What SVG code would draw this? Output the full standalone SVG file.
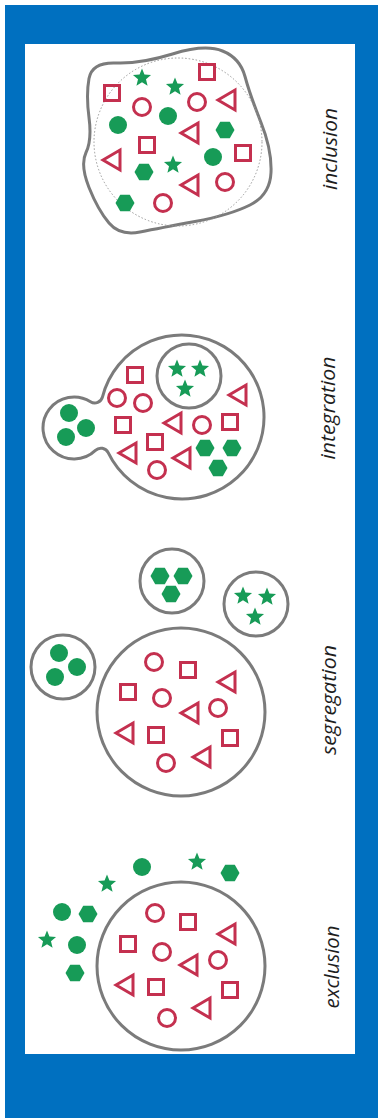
<svg xmlns="http://www.w3.org/2000/svg" xmlns:xlink="http://www.w3.org/1999/xlink" width="378" height="1118" viewBox="0 0 378 1118">
<style>
.ol{fill:#fff;stroke:#7b7b7b;stroke-width:3}
.red{fill:none;stroke:#c4304f;stroke-width:3;stroke-linejoin:miter}
.grn{fill:#179b57;stroke:none}
.lbl{font-family:"Open Sans","Liberation Sans",sans-serif;font-style:italic;font-size:20px;fill:#1e1e1e;text-anchor:middle}
</style>
<defs>
<rect id="sq" class="red" x="-7.5" y="-7.5" width="15" height="15"/>
<circle id="ring" class="red" r="8.5"/>
<polygon id="tri" class="red" points="-9,0 8,-10 8,10"/>
<circle id="dot" class="grn" r="9"/>
<polygon id="hex" class="grn" points="9.5,0 4.75,8.23 -4.75,8.23 -9.5,0 -4.75,-8.23 4.75,-8.23"/>
<polygon id="star" class="grn" points="0,-9.5 2.45,-3.4 9.04,-2.94 3.97,1.29 5.58,7.69 0,4.2 -5.58,7.69 -3.97,1.29 -9.04,-2.94 -2.45,-3.4"/>
</defs>
<rect x="0" y="0" width="378" height="1118" fill="#fff"/>
<rect x="5" y="5" width="373" height="1113" fill="#0070c0"/>
<rect x="25" y="44" width="330" height="1010" fill="#fff"/>

<g id="inclusion">
<path class="ol" d="M89,78.5 Q92,62 116,63 Q140,64 172.5,54 Q205,44 222.5,51 Q240,58 245,76.5 Q250,95 261,122.5 Q272,150 271,172.5 Q270,195 250,205 Q230,215 195,221.5 Q160,228 140,232 Q120,236 109,223 Q98,210 89,187.5 Q80,165 86,152.5 Q92,140 89,117.5 Q86,95 89,78.5 Z"/>
<circle cx="178" cy="142" r="84" fill="none" stroke="#999" stroke-width="1" stroke-dasharray="1.5 2"/>
<use href="#star" x="142" y="78"/><use href="#star" x="175" y="87"/><use href="#star" x="173" y="165"/>
<use href="#sq" x="207" y="72"/><use href="#sq" x="112" y="93"/><use href="#sq" x="147" y="145"/><use href="#sq" x="243" y="153"/>
<use href="#ring" x="142" y="107"/><use href="#ring" x="197" y="102"/><use href="#ring" x="225" y="182"/><use href="#ring" x="163" y="203"/>
<use href="#tri" x="227" y="100"/><use href="#tri" x="190" y="133"/><use href="#tri" x="112" y="160"/><use href="#tri" x="190" y="185"/>
<use href="#dot" x="168" y="116"/><use href="#dot" x="118" y="125"/><use href="#dot" x="213" y="157"/>
<use href="#hex" x="225" y="130"/><use href="#hex" x="144" y="172"/><use href="#hex" x="125" y="203"/>
<text class="lbl" transform="translate(337,149) rotate(-90)" textLength="82" lengthAdjust="spacingAndGlyphs">inclusion</text>
</g>

<g id="integration">
<path class="ol" d="M102.5,396.93 A82,82 0 1 1 108.18,452.69 A8,8 0 0 0 95.45,450.39 A31,31 0 1 1 90.49,401.75 A8,8 0 0 0 102.5,396.93 Z"/>
<circle class="ol" cx="189" cy="376" r="32"/>
<use href="#star" x="177" y="369"/><use href="#star" x="200" y="369"/><use href="#star" x="185" y="389"/>
<use href="#dot" x="69" y="413"/><use href="#dot" x="86" y="428"/><use href="#dot" x="66" y="437"/>
<use href="#sq" x="135" y="375"/><use href="#sq" x="123" y="425"/><use href="#sq" x="155" y="442"/><use href="#sq" x="230" y="422"/>
<use href="#ring" x="117" y="398"/><use href="#ring" x="143" y="403"/><use href="#ring" x="202" y="425"/><use href="#ring" x="157" y="470"/>
<use href="#tri" x="238" y="395"/><use href="#tri" x="173" y="423"/><use href="#tri" x="128" y="453"/><use href="#tri" x="182" y="458"/>
<use href="#hex" x="205" y="448"/><use href="#hex" x="232" y="448"/><use href="#hex" x="218" y="468"/>
<text class="lbl" transform="translate(335,408) rotate(-90)" textLength="103" lengthAdjust="spacingAndGlyphs">integration</text>
</g>

<g id="segregation">
<circle class="ol" cx="181" cy="712" r="84"/>
<circle class="ol" cx="63" cy="667" r="32"/>
<circle class="ol" cx="172" cy="581" r="32"/>
<circle class="ol" cx="256" cy="604" r="32"/>
<use href="#hex" x="160" y="576"/><use href="#hex" x="183" y="576"/><use href="#hex" x="171" y="594"/>
<use href="#star" x="243" y="596"/><use href="#star" x="267" y="597"/><use href="#star" x="255" y="617"/>
<use href="#dot" x="59" y="653"/><use href="#dot" x="77" y="667"/><use href="#dot" x="55" y="677"/>
<use href="#ring" x="154" y="662"/><use href="#sq" x="188" y="670"/><use href="#tri" x="227" y="682"/>
<use href="#sq" x="128" y="692"/><use href="#ring" x="162" y="698"/><use href="#tri" x="190" y="713"/>
<use href="#ring" x="218" y="708"/><use href="#tri" x="125" y="733"/><use href="#sq" x="156" y="735"/>
<use href="#sq" x="230" y="738"/><use href="#ring" x="166" y="763"/><use href="#tri" x="202" y="757"/>
<text class="lbl" transform="translate(336,700) rotate(-90)" textLength="110" lengthAdjust="spacingAndGlyphs">segregation</text>
</g>

<g id="exclusion">
<circle class="ol" cx="181" cy="966" r="84"/>
<use href="#ring" x="155" y="913"/><use href="#sq" x="188" y="922"/><use href="#tri" x="227" y="934"/>
<use href="#sq" x="128" y="944"/><use href="#ring" x="162" y="952"/><use href="#tri" x="189" y="965"/>
<use href="#ring" x="218" y="960"/><use href="#tri" x="125" y="985"/><use href="#sq" x="156" y="987"/>
<use href="#sq" x="230" y="990"/><use href="#ring" x="167" y="1018"/><use href="#tri" x="202" y="1008"/>
<use href="#dot" x="142" y="867"/><use href="#star" x="197" y="862"/><use href="#hex" x="230" y="873"/>
<use href="#star" x="107" y="884"/><use href="#dot" x="62" y="912"/><use href="#hex" x="88" y="914"/>
<use href="#star" x="47" y="940"/><use href="#dot" x="77" y="945"/><use href="#hex" x="75" y="973"/>
<text class="lbl" transform="translate(339,967) rotate(-90)" textLength="83" lengthAdjust="spacingAndGlyphs">exclusion</text>
</g>
</svg>
